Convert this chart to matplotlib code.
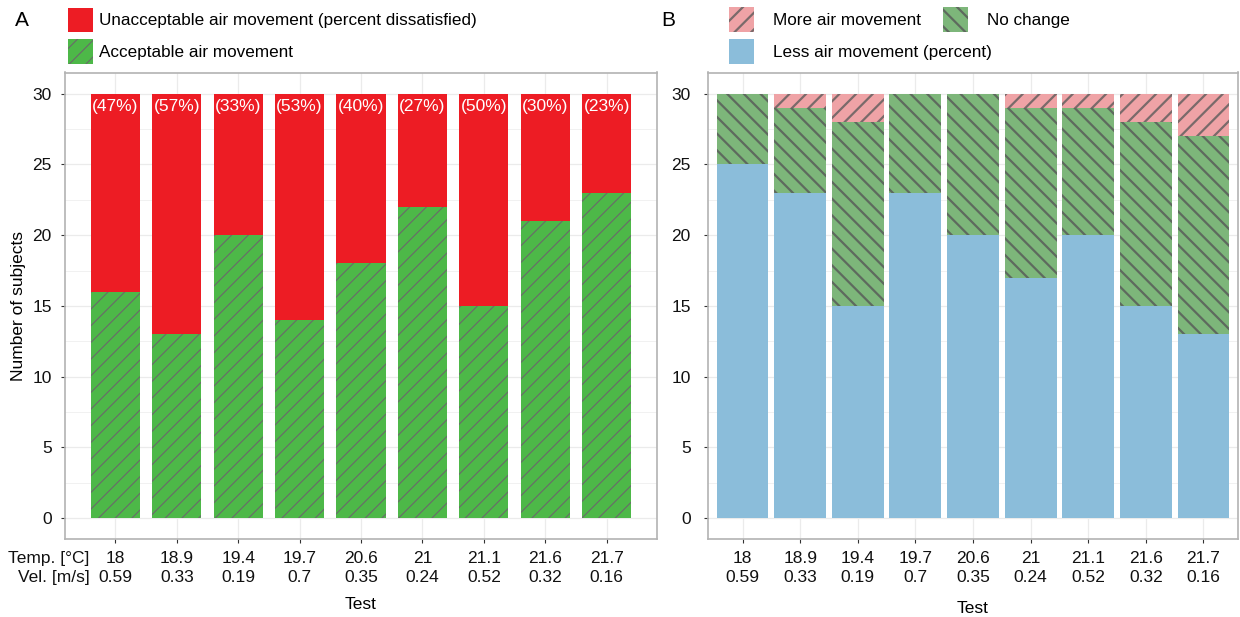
import numpy as np
import matplotlib
matplotlib.use("Agg")
import matplotlib.pyplot as plt
from matplotlib.patches import Patch

plt.rcParams['font.family'] = ['Liberation Sans', 'DejaVu Sans']
plt.rcParams['font.size'] = 12.5

# Test conditions
temps = ["18", "18.9", "19.4", "19.7", "20.6", "21", "21.1", "21.6", "21.7"]
vels = ["0.59", "0.33", "0.19", "0.7", "0.35", "0.24", "0.52", "0.32", "0.16"]

# Panel A: acceptability votes (30 subjects per test)
acceptable = [16, 13, 20, 14, 18, 22, 15, 21, 23]
unacceptable = [14, 17, 10, 16, 12, 8, 15, 9, 7]

# Panel B: air movement preference
less_air = [25, 23, 15, 23, 20, 17, 20, 15, 13]
no_change = [5, 6, 13, 7, 10, 12, 9, 13, 14]
more_air = [0, 1, 2, 0, 0, 1, 1, 2, 3]

RED = '#ED1C24'
GREEN_A = '#4DB848'
GREEN_B = '#7DB67A'
PINK = '#EFA3A6'
BLUE = '#8BBDDA'
GRID = '#EBEBEB'
FRAME = '#B3B3B3'

fig = plt.figure(figsize=(12.4, 6.17), dpi=100)
W, H = 1240, 617


def px_axes(left, right, top, bottom):
    return fig.add_axes([left / W, 1 - bottom / H, (right - left) / W, (bottom - top) / H])


def style_axes(ax, ypad):
    ax.set_ylim(-1.5, 31.5)
    ax.set_yticks(np.arange(0, 31, 5))
    ax.set_yticks(np.arange(2.5, 30, 5), minor=True)
    ax.grid(True, which='major', color=GRID, linewidth=0.9, zorder=0)
    ax.grid(True, which='minor', axis='y', color=GRID, linewidth=0.5, zorder=0)
    ax.set_axisbelow(True)
    for s in ax.spines.values():
        s.set_color(FRAME)
        s.set_linewidth(1.2)
    ax.tick_params(axis='both', which='major', length=3, width=0.8, color='#333333',
                   labelcolor='#111111', labelsize=12.5)
    ax.tick_params(axis='y', which='major', pad=ypad)
    ax.tick_params(axis='x', which='major', pad=5.5)
    ax.tick_params(which='minor', length=0)


x = np.arange(len(temps))
xlabels = [f"{t}\n{v}" for t, v in zip(temps, vels)]

# ---- Panel A ----
axA = px_axes(65, 657, 72.5, 539.3)
style_axes(axA, 6.5)
plt.rcParams['hatch.linewidth'] = 0.8
axA.bar(x, acceptable, width=0.8, color=GREEN_A, edgecolor='#6a6a6a', linewidth=0,
        hatch='//', zorder=2)
axA.bar(x, unacceptable, width=0.8, bottom=acceptable, color=RED, edgecolor=RED,
        linewidth=0, zorder=2)
for xi, a, u in zip(x, acceptable, unacceptable):
    pct = round(100 * u / (a + u))
    axA.text(xi, a + u - 0.4, f"({pct}%)", ha='center', va='top', color='white',
             fontsize=12.5, zorder=3)
axA.set_xlim(-0.82, 8.82)
axA.set_xticks(x)
axA.set_xticklabels(xlabels, linespacing=1.3)
axA.set_ylabel("Number of subjects", fontsize=12.5)
axA.yaxis.set_label_coords(-0.066, 0.5)
axA.set_xlabel("Test", fontsize=12.5)
axA.xaxis.set_label_coords(0.5, -0.124)
axA.annotate("Temp. [°C]\nVel. [m/s]", xy=(89.5 / W, 0), xycoords=('figure fraction', 'axes fraction'),
             xytext=(0, -8.5), textcoords='offset points', ha='right', va='top',
             multialignment='right', linespacing=1.3, fontsize=12.5, color='#111111')

# ---- Panel B ----
axB = px_axes(708, 1238, 72.5, 539.3)
style_axes(axB, 9.5)
plt.rcParams['hatch.linewidth'] = 1.6
axB.bar(x, less_air, width=0.9, color=BLUE, edgecolor=BLUE, linewidth=0, zorder=2)
axB.bar(x, no_change, width=0.9, bottom=less_air, color=GREEN_B, edgecolor='#5e6a5e',
        linewidth=0, hatch='\\\\', zorder=2)
top_nc = np.add(less_air, no_change)
axB.bar(x, more_air, width=0.9, bottom=top_nc, color=PINK, edgecolor='#7a6a6a',
        linewidth=0, hatch='//', zorder=2)
axB.set_xlim(-0.6, 8.6)
axB.set_xticks(x)
axB.set_xticklabels(xlabels, linespacing=1.3)
axB.set_xlabel("Test", fontsize=12.5)
axB.xaxis.set_label_coords(0.5, -0.132)

# Legends
leg_kw = dict(loc='upper left', frameon=False, borderpad=0, borderaxespad=0,
              handlelength=1.44, handleheight=1.83, labelspacing=0.42, fontsize=12.3)

plt.rcParams['hatch.linewidth'] = 0.8
leg_a = [Patch(facecolor=RED, edgecolor=RED, linewidth=0,
               label="Unacceptable air movement (percent dissatisfied)"),
         Patch(facecolor=GREEN_A, edgecolor='#6a6a6a', linewidth=0, hatch='//',
               label="Acceptable air movement")]
fig.legend(handles=leg_a, bbox_to_anchor=(68.3 / W, 1 - 7.7 / H), handletextpad=0.38,
           **leg_kw)

plt.rcParams['hatch.linewidth'] = 1.6
leg_b1 = [Patch(facecolor=PINK, edgecolor='#7a6a6a', linewidth=0, hatch='//',
                label="More air movement"),
          Patch(facecolor=BLUE, edgecolor=BLUE, linewidth=0,
                label="Less air movement (percent)")]
fig.legend(handles=leg_b1, bbox_to_anchor=(729 / W, 1 - 7.5 / H), handletextpad=1.15,
           **leg_kw)
leg_b2 = [Patch(facecolor=GREEN_B, edgecolor='#5e6a5e', linewidth=0, hatch='\\\\',
                label="No change")]
fig.legend(handles=leg_b2, bbox_to_anchor=(943 / W, 1 - 7.5 / H), handletextpad=1.15,
           **leg_kw)

fig.text(22 / W, 1 - 20 / H, "A", fontsize=15, ha='center', va='center')
fig.text(668 / W, 1 - 20 / H, "B", fontsize=15, ha='center', va='center')

fig.savefig("out.png", dpi=100)
